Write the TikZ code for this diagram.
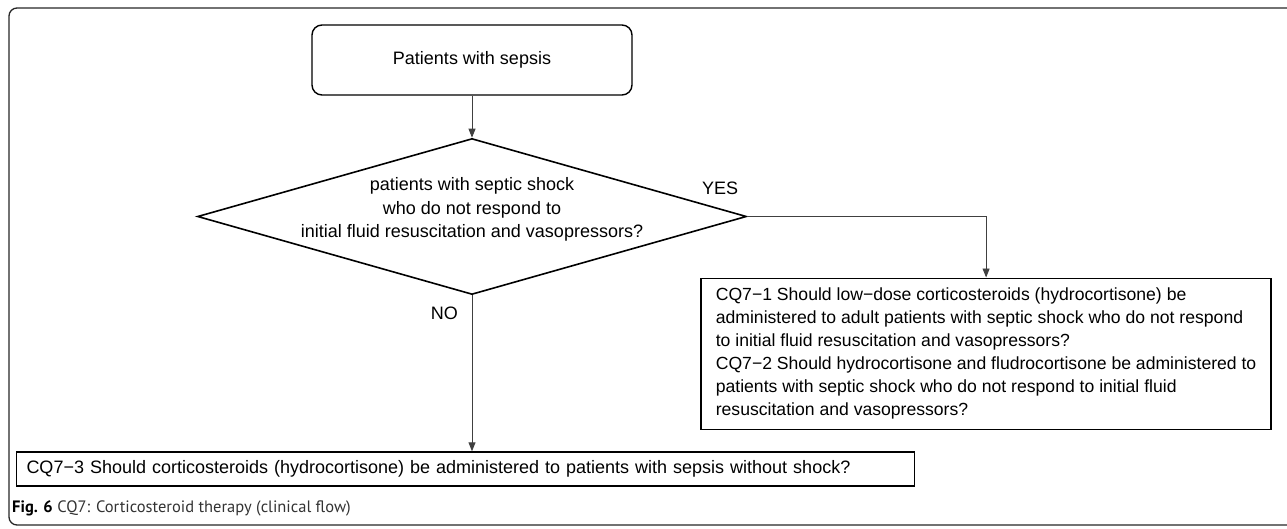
\documentclass[tikz,border=0pt]{standalone}
\usepackage{fontspec}
\setmainfont{Liberation Sans}
\newfontfamily\capfont{PT Sans}
\usepackage{tikz}
\usetikzlibrary{shapes.geometric, positioning, arrows.meta}

\begin{document}
\begin{tikzpicture}[
        % Define styles for the clinical flow elements
        startbox/.style={rectangle, rounded corners=10pt, draw, line width=1.4pt, minimum width=320pt, minimum height=70pt, font=\fontsize{18}{23}\selectfont},
        decision/.style={diamond, draw, line width=1.6pt, aspect=3.52, minimum width=549pt, minimum height=156pt, inner sep=-20pt, align=center, text depth=18pt, font=\fontsize{18}{23.5}\selectfont},
        question/.style={rectangle, draw, line width=1.6pt, align=left, font=\fontsize{18}{23}\selectfont},
        answer/.style={inner sep=2pt, font=\fontsize{18}{22}\selectfont},
        flow/.style={draw=black!75, line width=0.9pt, -{Triangle[length=9pt, width=7pt]}},
        frame/.style={draw=black!85, line width=1.3pt, rounded corners=8pt},
        caption/.style={anchor=west, inner sep=0pt, text=black!80, font=\capfont\fontsize{16.5}{18}\selectfont}
    ]
        \useasboundingbox (0,0) rectangle (1287pt,-528pt);
        \draw[frame] (9pt,-8pt) rectangle (1300pt,-525pt);

        % --------------------------------------------------------
        % Start and decision
        % --------------------------------------------------------
        \node[startbox] (sepsis) at (472pt,-60pt) {Patients with sepsis};
        \node[decision, below=42pt of sepsis] (shock) {patients with septic shock\\who do not respond to\\initial fluid resuscitation and vasopressors?};
        \draw[flow] (sepsis) -- (shock);

        % --------------------------------------------------------
        % YES branch: CQ7-1 and CQ7-2
        % --------------------------------------------------------
        \node[answer, above left=20pt and 7pt of shock.east] (yes) {YES};
        \node[question, minimum width=570pt, minimum height=151pt, inner xsep=8pt, font=\fontsize{17.6}{23}\selectfont, below right=61pt and -47pt of shock.east] (cq12) {CQ7−1 Should low−dose corticosteroids (hydrocortisone) be\\administered to adult patients with septic shock who do not respond\\to initial fluid resuscitation and vasopressors?\\CQ7−2 Should hydrocortisone and fludrocortisone be administered to\\patients with septic shock who do not respond to initial fluid\\resuscitation and vasopressors?};
        \draw[flow] (shock.east) -| (cq12.north);

        % --------------------------------------------------------
        % NO branch: CQ7-3
        % --------------------------------------------------------
        \node[answer, below left=9pt and 12pt of shock.south] (no) {NO};
        \node[question, text width=878pt, inner xsep=10pt, inner ysep=3pt, minimum height=34pt, below=156pt of shock, xshift=-6.5pt] (cq3) {CQ7−3 Should corticosteroids (hydrocortisone) be administered to patients with sepsis without shock?};
        \draw[flow] (shock.south) -- (cq3.north -| shock.south);

        % Caption
        \node[caption] (fig) at (12pt,-508pt) {\textbf{\color{black}Fig. 6} CQ7: Corticosteroid therapy (clinical flow)};

    \end{tikzpicture}
\end{document}
